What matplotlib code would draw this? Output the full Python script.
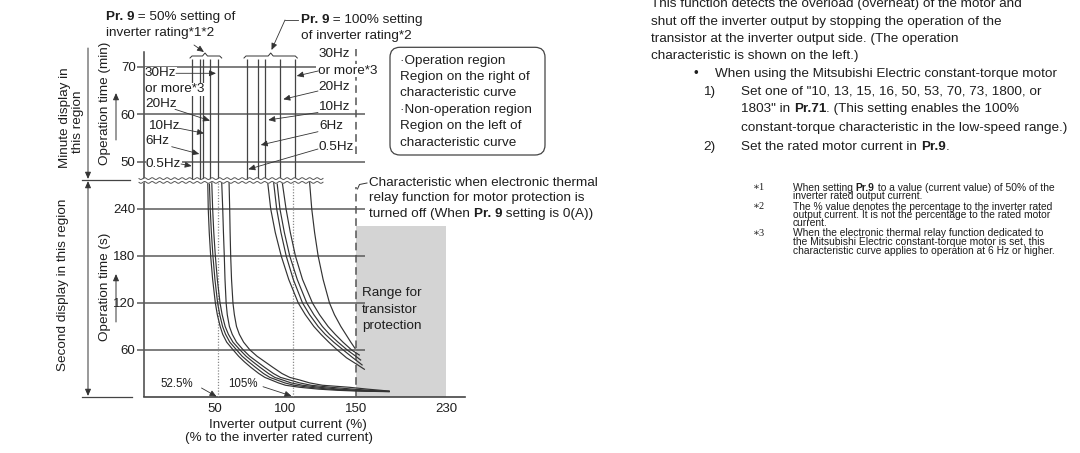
import numpy as np
import matplotlib
matplotlib.use('Agg')
import matplotlib.pyplot as plt
from matplotlib.patches import FancyBboxPatch

plt.rcParams['font.family'] = ['Liberation Sans', 'DejaVu Sans']
plt.rcParams['font.size'] = 9.7

# ---- chart values ----
min_ticks = [50, 60, 70]
sec_ticks = [60, 120, 180, 240]
x_ticks = [50, 100, 150, 230]
freqs = ['0.5Hz', '6Hz', '10Hz', '20Hz', '30Hz']

# minute region: curves are practically vertical here (% of inverter rated current)
asym_50 = [34.4, 39.8, 42.1, 46.8, 52.3]
asym_100 = [72.7, 80.4, 85.8, 96.1, 106.7]

# second region, Pr.9 = 50 %  (0.5Hz ... 30Hz)
t50 = [278, 240, 210, 180, 150, 120, 105, 90, 80, 70, 60, 52, 45, 38, 30, 25, 21.7, 18, 15, 12.4, 10, 8.5, 7.5]
cur50 = [
    [45.2, 45.6, 46.3, 47.3, 48.7, 50.6, 52.0, 54.0, 55.8, 58.6, 63.2, 67.0, 71.0, 75.5, 81.2, 85.5, 90.0, 95.0, 100, 110, 123.5, 137, 152, 179],
    [46.3, 47.0, 47.8, 48.9, 50.3, 52.2, 53.7, 55.7, 57.8, 60.8, 65.6, 69.5, 74.0, 78.8, 84.5, 89.0, 94.0, 99.5, 106, 117, 131, 145, 160, 179],
    [48.0, 48.7, 49.5, 50.6, 52.0, 53.9, 55.4, 57.5, 59.8, 63.0, 68.0, 72.3, 77.0, 82.0, 88.0, 92.5, 98.0, 104, 112, 124, 138, 152, 166, 179],
    [55.0, 55.8, 56.3, 56.9, 57.4, 58.2, 59.0, 60.5, 62.5, 65.5, 70.3, 74.8, 80.0, 85.2, 91.5, 96.5, 103, 110, 118, 132, 148, 162, 173, 179],
    [60.2, 60.7, 61.0, 61.4, 62.0, 63.0, 64.0, 65.5, 67.5, 70.5, 75.0, 80.0, 85.5, 91.0, 97.5, 103, 110, 117, 126, 145, 160, 172, 179],
]
tail50 = [6.8, 7.0, 7.1, 7.3]  # end times of the first four curves at 179 %
sec50 = [t50 + [tail50[0]], t50 + [tail50[1]], t50 + [tail50[2]], t50 + [tail50[3]], t50]

# second region, Pr.9 = 100 %
cur100 = [
    [87.2, 89.6, 92.8, 97.0, 102.3, 109, 114, 120, 125, 130.5, 136.5, 143, 150, 157],
    [91.4, 93.8, 96.8, 100.5, 105.5, 112, 117, 123, 128, 134, 140.7, 147.5, 152.3, 155],
    [93.8, 96.1, 99.2, 103, 108.3, 115, 120, 126, 131, 137, 143.5, 149.5, 153.7],
    [97.4, 100.4, 103.4, 107, 112, 119, 124, 130, 135, 140.5, 146.6, 152.5],
    [116.8, 118.5, 120.5, 123, 126.5, 131, 134.5, 139, 142.5, 146, 149],
]
sec100 = [
    [278, 240, 210, 180, 150, 120, 105, 90, 80, 70, 60, 50, 42, 35.4],
    [278, 240, 210, 180, 150, 120, 105, 90, 80, 70, 60, 50, 44, 40.9],
    [278, 240, 210, 180, 150, 120, 105, 90, 80, 70, 60, 52, 47.2],
    [278, 240, 210, 180, 150, 120, 105, 90, 80, 70, 60, 53.6],
    [278, 240, 210, 180, 150, 120, 105, 90, 80, 70, 62],
]

marks_pct = [52.5, 105]
off_pct = 150
prot_range = [150, 230]
prot_top = 218

# ---- figure ----
W, H = 1080, 453
fig = plt.figure(figsize=(W / 100, H / 100), dpi=100)
TXT = '#1e1e1e'
LN = '#444444'


def fbox(x0, y0, x1, y1):
    return [x0 / W, 1 - y1 / H, (x1 - x0) / W, (y1 - y0) / H]


K = 0.792  # right of 150 % the axis is squeezed


def fwd(x):
    x = np.asarray(x, float)
    return np.where(x <= 150, x, 150 + (x - 150) * K)


def inv(y):
    y = np.asarray(y, float)
    return np.where(y <= 150, y, 150 + (y - 150) / K)


ax_s = fig.add_axes(fbox(137, 180, 465, 397))
ax_m = fig.add_axes(fbox(137, 45, 465, 180), sharex=ax_s)
ax_s.set_xscale('function', functions=(fwd, inv))
ax_s.set_xlim(-4.58, 246.5)
ax_s.set_ylim(0, 277)
ax_m.set_ylim(46.09, 74.63)

for a in (ax_s, ax_m):
    a.set_facecolor('none')
    for sp in a.spines.values():
        sp.set_visible(False)
    a.tick_params(length=0, labelsize=9.5, colors=TXT)

ax_s.set_xticks(x_ticks)
ax_s.set_yticks(sec_ticks)
ax_s.tick_params(axis='x', pad=4)
ax_s.tick_params(axis='y', pad=1)
ax_m.set_yticks(min_ticks)
ax_m.tick_params(axis='y', pad=1)
ax_m.tick_params(axis='x', labelbottom=False)

# axes lines and grid
ax_s.plot([0, 246.5], [0, 0], color=LN, lw=1.2, clip_on=False)
ax_s.plot([0, 0], [0, 277], color=LN, lw=1.1)
ax_m.plot([0, 0], [46.09, 73.2], color=LN, lw=1.1)
ax_s.hlines(sec_ticks, -4.58, 157.5, color='#5a5a5a', lw=1.1)
ax_m.hlines(min_ticks[:2], -4.58, 157.5, color='#5a5a5a', lw=1.1)
ax_m.hlines(min_ticks[2], -4.58, 121.5, color='#5a5a5a', lw=1.1)

# transistor protection range
ax_s.fill_between(prot_range, 0, prot_top, color='#d4d4d4', lw=0, zorder=0)

# reference lines
ax_s.vlines(marks_pct, 0, 277, colors='#8a8a8a', lw=0.9, linestyles=(0, (1, 1.3)))
ax_s.vlines(off_pct, 0, 268.5, colors='#555555', lw=1.1, linestyles=(0, (5, 3)))
ax_m.vlines(off_pct, 51.5, 73.8, colors='#555555', lw=1.1, linestyles=(0, (5, 3)))

# minute-region curves
ax_m.vlines(asym_50 + asym_100, 46.09, 71.67, colors=LN, lw=0.9)

# second-region curves
for xs, ys in zip(cur50 + cur100, sec50 + sec100):
    ax_s.plot(xs, ys, color='#333333', lw=0.85)

# ---- overlay in pixel units for the annotations ----
ov = fig.add_axes([0, 0, 1, 1])
ov.set_xlim(0, W)
ov.set_ylim(H, 0)
ov.axis('off')
R = fig.canvas.get_renderer()


def txt(x, y, s, size=9.7, **kw):
    kw.setdefault('ha', 'left')
    kw.setdefault('va', 'center')
    kw.setdefault('color', TXT)
    return ov.text(x, y, s, fontsize=size, **kw)


def rich(x, y, parts, size=9.7, **kw):
    for s, b in parts:
        t = txt(x, y, s, size=size, fontweight='bold' if b else 'normal', **kw)
        x += t.get_window_extent(R).width


def arrow(x0, y0, x1, y1, style='-|>', lw=0.6):
    ov.annotate('', xy=(x1, y1), xytext=(x0, y0),
                arrowprops=dict(arrowstyle=style + ',head_length=0.5,head_width=0.22',
                                mutation_scale=8, lw=lw, color='#333333',
                                shrinkA=0, shrinkB=0))


# axis break (double wavy line)
xw = np.linspace(139, 323, 500)
wv = 0.9 * np.sin(2 * np.pi * (xw - 139) / 7.5)
ov.fill_between(xw, 178.6 + wv, 182.4 + wv, color='white', lw=0, zorder=3)
ov.plot(xw, 178.6 + wv, color='#555555', lw=0.7, zorder=4)
ov.plot(xw, 182.4 + wv, color='#555555', lw=0.7, zorder=4)

# region markers on the left
ov.plot([82, 130], [180, 180], color=LN, lw=0.9)
ov.plot([82, 132], [397, 397], color=LN, lw=0.9)
arrow(88, 48, 88, 179, lw=0.7)
arrow(88, 181, 88, 396, style='<|-|>', lw=0.7)
txt(65, 117.5, 'Minute display in', rotation=90, ha='center')
txt(77.5, 122, 'this region', rotation=90, ha='center')
txt(63, 285, 'Second display in this region', rotation=90, ha='center')
txt(105, 103, 'Operation time (min)', rotation=90, ha='center')
txt(105, 287, 'Operation time (s)', rotation=90, ha='center')
arrow(116, 140, 116, 93, lw=0.7)
arrow(116, 322, 116, 274, lw=0.7)

# x label
txt(287.5, 425, 'Inverter output current (%)', ha='center')
txt(279, 438.5, '(% to the inverter rated current)', ha='center')

# 52.5 % / 105 %
txt(177, 384, '52.5%', size=8.3, ha='center')
arrow(201.5, 388, 216.5, 396.5)
txt(243, 384, '105%', size=8.3, ha='center')
arrow(263, 386.7, 291.5, 396)

# group headers and braces
rich(106, 17.3, [('Pr. 9', True), (' = 50% setting of', False)])
txt(106, 33.3, 'inverter rating*1*2')
rich(300.7, 20, [('Pr. 9', True), (' = 100% setting', False)])
txt(300.7, 36, 'of inverter rating*2')
arrow(194, 45, 204, 52)
ov.plot([298, 285], [20, 20], color='#333333', lw=0.6)
arrow(285, 20, 271.5, 50)
for x0, xm, x1 in [(190, 205, 221.7), (244, 270.7, 297.3)]:
    ov.plot([x0, x0 + 2, xm - 2.5, xm, xm + 2.5, x1 - 2, x1],
            [58, 56, 56, 53, 56, 56, 58], color='#333333', lw=0.7)

# frequency labels, 50 % group
wb = dict(facecolor='white', edgecolor='none', pad=0.3)
txt(145, 73.3, '30Hz', bbox=wb)
txt(145, 89.3, 'or more*3', bbox=wb, zorder=5)
txt(145, 103.7, '20Hz', bbox=wb)
txt(148.3, 126, '10Hz', bbox=wb)
txt(145, 140.5, '6Hz', bbox=wb)
txt(146, 164, '0.5Hz', bbox=wb)
arrow(176, 73.3, 216, 73.3)
arrow(175, 109.3, 210, 120.7)
arrow(179, 128.3, 204, 133.3)
arrow(171.7, 146.7, 199.3, 154)
arrow(181, 164, 191.7, 166)

# frequency labels, 100 % group
txt(318.3, 53.7, '30Hz', bbox=wb)
txt(318.3, 70.5, 'or more*3', bbox=wb)
txt(318.3, 87, '20Hz', bbox=wb)
txt(318.3, 107, '10Hz', bbox=wb)
txt(319.3, 126, '6Hz', bbox=wb)
txt(318.3, 147, '0.5Hz', bbox=wb)
arrow(318, 71, 296.7, 76)
arrow(318, 91, 283.3, 99.3)
arrow(318, 112.5, 268.3, 120)
arrow(318, 131.7, 260.7, 145)
arrow(318, 149, 248.3, 169.3)

# operation region box
ov.add_patch(FancyBboxPatch((390, 47.3), 155, 107.7,
                            boxstyle='round,pad=0,rounding_size=10',
                            facecolor='white', edgecolor='#444444', lw=0.9))
for yy, s in zip([61, 77.3, 93.3, 110, 126, 142.7],
                 ['\u00b7Operation region', 'Region on the right of', 'characteristic curve',
                  '\u00b7Non-operation region', 'Region on the left of', 'characteristic curve']):
    txt(400.5, yy, s)

# thermal-off note
ov.plot([367, 359.5, 357.5], [183, 184.5, 189], color='#333333', lw=0.7)
txt(369.3, 182.7, 'Characteristic when electronic thermal')
txt(369.3, 198.5, 'relay function for motor protection is')
rich(369.3, 214.3, [('turned off (When ', False), ('Pr. 9', True), (' setting is 0(A))', False)])

# protection range label
txt(362, 293.3, 'Range for')
txt(362, 310, 'transistor')
txt(362, 326.5, 'protection')

# ---- description on the right ----
txt(651, 3.5, 'This function detects the overload (overheat) of the motor and')
txt(651, 21.7, 'shut off the inverter output by stopping the operation of the')
txt(651, 39.3, 'transistor at the inverter output side. (The operation')
txt(651, 56, 'characteristic is shown on the left.)')
txt(694, 74, '\u2022')
txt(715, 74, 'When using the Mitsubishi Electric constant-torque motor')
txt(703, 91.7, '1)')
txt(741, 91.7, 'Set one of "10, 13, 15, 16, 50, 53, 70, 73, 1800, or')
rich(741, 109.3, [('1803" in ', False), ('Pr.71', True), ('. (This setting enables the 100%', False)])
txt(741, 128.3, 'constant-torque characteristic in the low-speed range.)')
txt(703, 146.7, '2)')
rich(741, 146.7, [('Set the rated motor current in ', False), ('Pr.9', True), ('.', False)])

# footnotes
FS = 7.4
for yy, mk in [(187.7, '\u22171'), (206.7, '\u22172'), (233.3, '\u22173')]:
    txt(753, yy, mk, size=FS, family=['Liberation Serif', 'DejaVu Serif'])
rich(793, 187.7, [('When setting ', False), ('Pr.9', True),
                  (' to a value (current value) of 50% of the', False)], size=FS)
txt(793, 196, 'inverter rated output current.', size=FS)
txt(793, 206.7, 'The % value denotes the percentage to the inverter rated', size=FS)
txt(793, 215, 'output current. It is not the percentage to the rated motor', size=FS)
txt(793, 223.3, 'current.', size=FS)
txt(793, 233.3, 'When the electronic thermal relay function dedicated to', size=FS)
txt(793, 242.3, 'the Mitsubishi Electric constant-torque motor is set, this', size=FS)
txt(793, 251, 'characteristic curve applies to operation at 6 Hz or higher.', size=FS)

fig.savefig('out.png', dpi=100)
